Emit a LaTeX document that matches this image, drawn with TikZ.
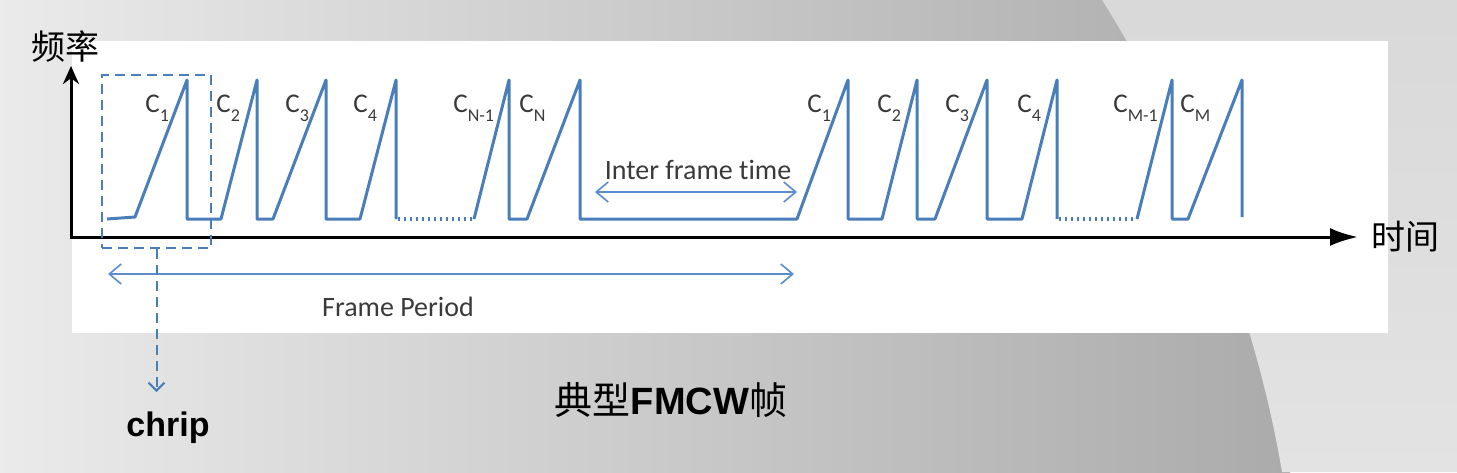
\documentclass[tikz,border=0pt]{standalone}
\usepackage{fontspec}
\setmainfont{Carlito}[Ligatures=NoCommon]
\newfontfamily\cjk{Noto Sans CJK SC}
\newfontfamily\arial{Liberation Sans}
\usetikzlibrary{arrows.meta}

\definecolor{chirpblue}{HTML}{4A7EBB}
\definecolor{spanblue}{HTML}{5B8DCE}
\definecolor{labelgray}{HTML}{3A3A3A}

\newcommand{\chirpsub}[1]{\raisebox{-4.5pt}{\fontsize{9}{10}\selectfont #1}}

\tikzset{
  wave/.style={chirpblue, line width=1.5pt, line join=round},
  gap/.style={chirpblue, line width=1.6pt, dash pattern=on 1.2pt off 1.8pt},
  span/.style={spanblue, line width=0.8pt, {Straight Barb[length=6pt,width=10pt]}-{Straight Barb[length=6pt,width=10pt]}},
  axis/.style={line width=1.5pt},
  clabel/.style={anchor=base west, inner sep=0pt, text=labelgray, font=\fontsize{13.5}{15}\selectfont},
}

\begin{document}
\begin{tikzpicture}[x=0.5pt, y=-0.5pt, font=\fontsize{14}{17}\selectfont, >=Stealth]

\useasboundingbox (0,0) rectangle (1457,472);
\shade[left color=black!8, right color=black!33] (0,0) rectangle (1290,472);
\shade[top color=black!15, bottom color=black!11] (1102,0) .. controls (1160,90) and (1250,280) .. (1282,472) -- (1457,472) -- (1457,0) -- cycle;
\fill[white] (72,41) rectangle (1388,333);

\coordinate (o) at (71,237);
\coordinate (ytip) at (71,66);
\coordinate (xtip) at (1358,237);
\draw[axis, -{Latex[length=14pt,width=9pt]}] (o) -- (xtip);
\draw[axis, -{Stealth[length=9pt,width=8pt]}] ([yshift=-0.75pt]o) -- (ytip);
\node[font=\cjk\fontsize{17}{20}\selectfont] (freq) at (66,47) {频率};
\node[font=\cjk\fontsize{17}{20}\selectfont, anchor=west] (time) at (1364,237) {时间};

\draw[wave] (107,219) -- (135,217) -- (187,80) -- (187,219) -- (221,219) -- (257,80) -- (257,219)
  -- (273,219) -- (326,80) -- (326,219) -- (360,219) -- (396,80) -- (396,219);
\draw[gap] (398,219) -- (474,219);
\draw[wave] (474,219) -- (509,80) -- (509,219) -- (527,219) -- (580,80) -- (580,219) -- (797,219)
  -- (848,80) -- (848,219) -- (882,219) -- (917,80) -- (917,219) -- (935,219) -- (987,80) -- (987,219)
  -- (1022,219) -- (1057,80) -- (1057,219);
\draw[gap] (1059,219) -- (1137,219);
\draw[wave] (1137,219) -- (1172,80) -- (1172,219) -- (1188,219) -- (1242,80) -- (1242,217);

\foreach \x/\s [count=\i] in {145/1,216/2,285/3,353/4,453/{N-1},519/N,807/1,877/2,945/3,1017/4,1113/{M-1},1180/M}
  \node[clabel] (c\i) at (\x,112) {C\chirpsub{\s}};

\coordinate (ifl) at (595,192);
\coordinate (ifr) at (797,192);
\draw[span] (ifl) -- (ifr);
\node[text=labelgray] (interlabel) at (698,170) {Inter frame time};

\coordinate (fpl) at (108,274);
\coordinate (fpr) at (794,274);
\draw[span] (fpl) -- (fpr);
\node[text=labelgray] (framelabel) at (398,307) {Frame Period};

\node[draw=chirpblue, line width=1pt, dash pattern=on 5pt off 3pt, minimum width=54.5pt, minimum height=86.5pt, inner sep=0pt] (chirpbox) at (156.5,161.5) {};
\coordinate (chirptip) at (155,392);
\draw[chirpblue, line width=1pt, dash pattern=on 5pt off 3pt, -{Straight Barb[length=4pt,width=8pt]}] (chirpbox.south) -- (chirpbox.south |- chirptip);
\node[font=\arial\bfseries\fontsize{17}{20}\selectfont] (chirplabel) at (168,428) {chrip};

\node[font=\cjk\fontsize{19}{22}\selectfont] (title) at (671,400) {典型{\arial\bfseries FMCW}帧};

\end{tikzpicture}
\end{document}
